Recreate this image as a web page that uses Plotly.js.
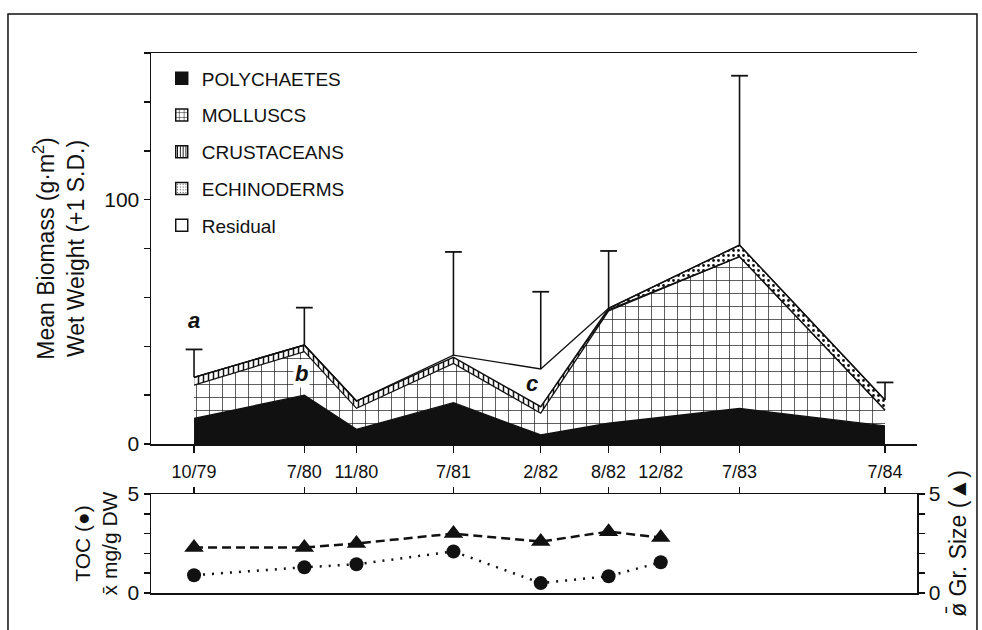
<!DOCTYPE html>
<html>
<head>
<meta charset="utf-8">
<script src="https://cdn.plot.ly/plotly-3.0.1.min.js"></script>
<style>
  html, body { margin: 0; padding: 0; background: #ffffff; }
  #chart { width: 982px; height: 630px; }
</style>
</head>
<body>
<div id="chart"></div>
<script>
// ---- sampling dates (tick labels) and their positions on the time axis (months after 10/79)
const sampleDates  = ['10/79', '7/80', '11/80', '7/81', '2/82', '8/82', '12/82', '7/83', '7/84'];
const sampleMonths = [0, 9.1, 13.4, 21.4, 28.6, 34.2, 38.5, 45, 57];

// ---- upper panel: mean biomass, wet weight (g/m2)
const biomassDates = ['10/79', '7/80', '11/80', '7/81', '2/82', '8/82', '7/83', '7/84'];
const polychaetes  = [10.5, 20.0, 6.0, 16.9, 3.7, 8.5, 14.6, 7.4];
const molluscs     = [13.6, 17.8, 8.6, 16.1, 8.9, 46.0, 62.1, 6.5];
const crustaceans  = [3.2, 2.7, 3.0, 2.5, 2.7, 0.4, 0.0, 0.0];
const echinoderms  = [0.0, 0.0, 0.0, 0.0, 0.0, 0.6, 4.7, 4.1];
const residual     = [0.0, 0.0, 0.0, 0.9, 15.4, 0.0, 0.0, 0.0];
const totalSD      = [11.4, 15.3, null, 42.2, 31.6, 23.5, 69.3, 7.2];

// ---- lower panel: sediment TOC (mg/g DW) and mean grain size (phi)
const sedimentDates = ['10/79', '7/80', '11/80', '7/81', '2/82', '8/82', '12/82'];
const toc           = [0.9, 1.3, 1.45, 2.1, 0.5, 0.85, 1.55];
const grainSize     = [2.3, 2.3, 2.5, 3.0, 2.6, 3.1, 2.8];

// ---- annotation letters
const letterText  = ['a', 'b', 'c'];
const letterMonth = [0, 8.9, 27.9];
const letterValue = [50.7, 28.9, 24.9];

const monthOf = d => sampleMonths[sampleDates.indexOf(d)];
const bx = biomassDates.map(monthOf);
const sx = sedimentDates.map(monthOf);
const totals = biomassDates.map((_, i) => polychaetes[i] + molluscs[i] + crustaceans[i] + echinoderms[i] + residual[i]);
const sdTops = totals.map((t, i) => totalSD[i] == null ? null : t + totalSD[i]);

const INK = '#111111';
const FONT = 'Liberation Sans, Arial, Helvetica, sans-serif';

const styles = [
  { name: 'POLYCHAETES', y: polychaetes, fill: INK, pat: null, legPat: null },
  { name: 'MOLLUSCS', y: molluscs, fill: '#ffffff',
    pat: { shape: '+', size: 13, solidity: 0.1, fgcolor: INK, bgcolor: '#ffffff' },
    legPat: { shape: '+', size: 6, solidity: 0.2, fgcolor: INK, bgcolor: '#ffffff' } },
  { name: 'CRUSTACEANS', y: crustaceans, fill: '#ffffff',
    pat: { shape: '|', size: 5, solidity: 0.3, fgcolor: INK, bgcolor: '#ffffff' },
    legPat: { shape: '|', size: 3.5, solidity: 0.35, fgcolor: INK, bgcolor: '#ffffff' } },
  { name: 'ECHINODERMS', y: echinoderms, fill: '#ffffff',
    pat: { shape: '.', size: 5, solidity: 0.25, fgcolor: INK, bgcolor: '#ffffff' },
    legPat: { shape: '.', size: 3.5, solidity: 0.12, fgcolor: INK, bgcolor: '#ffffff' } },
  { name: 'Residual', y: residual, fill: '#ffffff', pat: null, legPat: null }
];

const traces = [];
// stacked areas (drawn, no legend)
styles.forEach((s, i) => {
  const t = {
    type: 'scatter', mode: 'lines', name: s.name, x: bx, y: s.y,
    stackgroup: 'biomass', xaxis: 'x', yaxis: 'y',
    line: { color: INK, width: 1.3 }, fillcolor: s.fill,
    showlegend: false, legendgroup: 'g' + i
  };
  if (s.pat) t.fillpattern = s.pat;
  traces.push(t);
});
// legend keys (square swatches)
styles.forEach((s, i) => {
  const m = { color: s.fill, line: { color: INK, width: 1.5 } };
  if (s.legPat) m.pattern = s.legPat;
  traces.push({
    type: 'bar', name: s.name, x: [null], y: [null], xaxis: 'x', yaxis: 'y',
    marker: m, legendgroup: 'g' + i, showlegend: true
  });
});
// +1 S.D. bars with top cap
traces.push({
  type: 'scatter', mode: 'markers', x: bx, y: sdTops, xaxis: 'x', yaxis: 'y',
  marker: { symbol: 'line-ew', size: 12, color: INK, line: { color: INK, width: 1.8 } },
  showlegend: false,
  error_y: { type: 'data', symmetric: false, array: totalSD.map(() => 0), arrayminus: totalSD,
             color: INK, thickness: 1.6, width: 0 }
});
traces.push({
  type: 'scatter', mode: 'lines+markers', name: 'TOC', x: sx, y: toc, xaxis: 'x2', yaxis: 'y2',
  line: { color: INK, width: 2.5, dash: '2px,7px' },
  marker: { symbol: 'circle', size: 14, color: INK }, showlegend: false
});
traces.push({
  type: 'scatter', mode: 'lines+markers', name: 'Grain size', x: sx, y: grainSize, xaxis: 'x2', yaxis: 'y4',
  line: { color: INK, width: 2.5, dash: '9px,5px' },
  marker: { symbol: 'triangle-up', size: 17, color: INK }, showlegend: false
});

const xRange = [-3.55, 59.64];
const axisCommon = { showgrid: false, zeroline: false, showline: true, linecolor: INK, linewidth: 1.5,
                     tickcolor: INK, tickwidth: 1.5 };

const layout = {
  width: 982, height: 630,
  margin: { l: 151, r: 65, t: 53, b: 37 },
  paper_bgcolor: '#ffffff', plot_bgcolor: '#ffffff',
  font: { family: FONT, color: INK, size: 18 },
  hovermode: false,
  showlegend: true,
  legend: {
    x: 0.014, y: 0.988, xanchor: 'left', yanchor: 'top',
    bgcolor: 'rgba(0,0,0,0)', borderwidth: 0,
    font: { family: FONT, size: 19, color: INK },
    traceorder: 'grouped', tracegroupgap: 9
  },
  xaxis: Object.assign({}, axisCommon, {
    domain: [0, 1], anchor: 'y', range: xRange,
    tickmode: 'array', tickvals: sampleMonths, ticktext: sampleDates,
    ticks: 'outside', ticklen: 7, mirror: true,
    ticklabelstandoff: 4,
    tickfont: { family: FONT, size: 18, color: INK }
  }),
  yaxis: Object.assign({}, axisCommon, {
    domain: [0.2759, 1], anchor: 'x', range: [0, 160],
    tickmode: 'array', tickvals: [0, 100], ticktext: ['0', '100'],
    ticks: 'outside', ticklen: 6,
    minor: { tick0: 0, dtick: 20, ticks: 'outside', ticklen: 6, tickcolor: INK, tickwidth: 1.5, showgrid: false },
    tickfont: { family: FONT, size: 21, color: INK },
    automargin: true,
    title: { text: 'Mean Biomass (g·m<sup>2</sup>)<br>Wet Weight (+1 S.D.)', standoff: 13,
             font: { family: FONT, size: 23, color: INK } }
  }),
  yaxis3: Object.assign({}, axisCommon, {
    overlaying: 'y', side: 'right', anchor: 'x', range: [0, 160],
    tickmode: 'linear', tick0: 0, dtick: 20,
    ticks: 'inside', ticklen: 7, showticklabels: false
  }),
  xaxis2: Object.assign({}, axisCommon, {
    domain: [0, 1], anchor: 'y2', side: 'top', range: xRange,
    tickmode: 'array', tickvals: sampleMonths,
    ticks: 'outside', ticklen: 6, showticklabels: false, mirror: true
  }),
  yaxis2: Object.assign({}, axisCommon, {
    domain: [0, 0.1833], anchor: 'x2', range: [0, 5],
    tickmode: 'array', tickvals: [0, 5], ticktext: ['0', '5'],
    ticks: 'outside', ticklen: 6,
    minor: { tick0: 0, dtick: 1, ticks: 'outside', ticklen: 6, tickcolor: INK, tickwidth: 1.5, showgrid: false },
    tickfont: { family: FONT, size: 21, color: INK },
    automargin: true,
    title: { text: 'TOC (●)<br>x̄ mg/g DW', standoff: 4, font: { family: FONT, size: 21, color: INK } }
  }),
  yaxis4: Object.assign({}, axisCommon, {
    overlaying: 'y2', side: 'right', anchor: 'x2', range: [0, 5],
    tickmode: 'array', tickvals: [0, 5], ticktext: ['0', '5'],
    ticks: 'outside', ticklen: 6,
    minor: { tick0: 0, dtick: 1, ticks: 'outside', ticklen: 6, tickcolor: INK, tickwidth: 1.5, showgrid: false },
    tickfont: { family: FONT, size: 21, color: INK },
    automargin: true,
    title: { text: 'ø̄ Gr. Size (▲)', standoff: 10, font: { family: FONT, size: 23, color: INK } }
  }),
  annotations: letterText.map((t, i) => ({
    text: '<b><i>' + t + '</i></b>', x: letterMonth[i], y: letterValue[i], xref: 'x', yref: 'y',
    showarrow: false, font: { family: FONT, size: 22, color: INK },
    bgcolor: t === 'b' ? '#ffffff' : 'rgba(0,0,0,0)', borderpad: 1
  })),
  shapes: [{
    type: 'rect', xref: 'paper', yref: 'paper',
    x0: -0.1867, x1: 1.0783, y0: -0.09, y1: 1.0722,
    line: { color: INK, width: 1.5 }, fillcolor: 'rgba(0,0,0,0)', layer: 'below'
  }]
};

Plotly.newPlot('chart', traces, layout, { displayModeBar: false, staticPlot: true });
</script>
</body>
</html>
